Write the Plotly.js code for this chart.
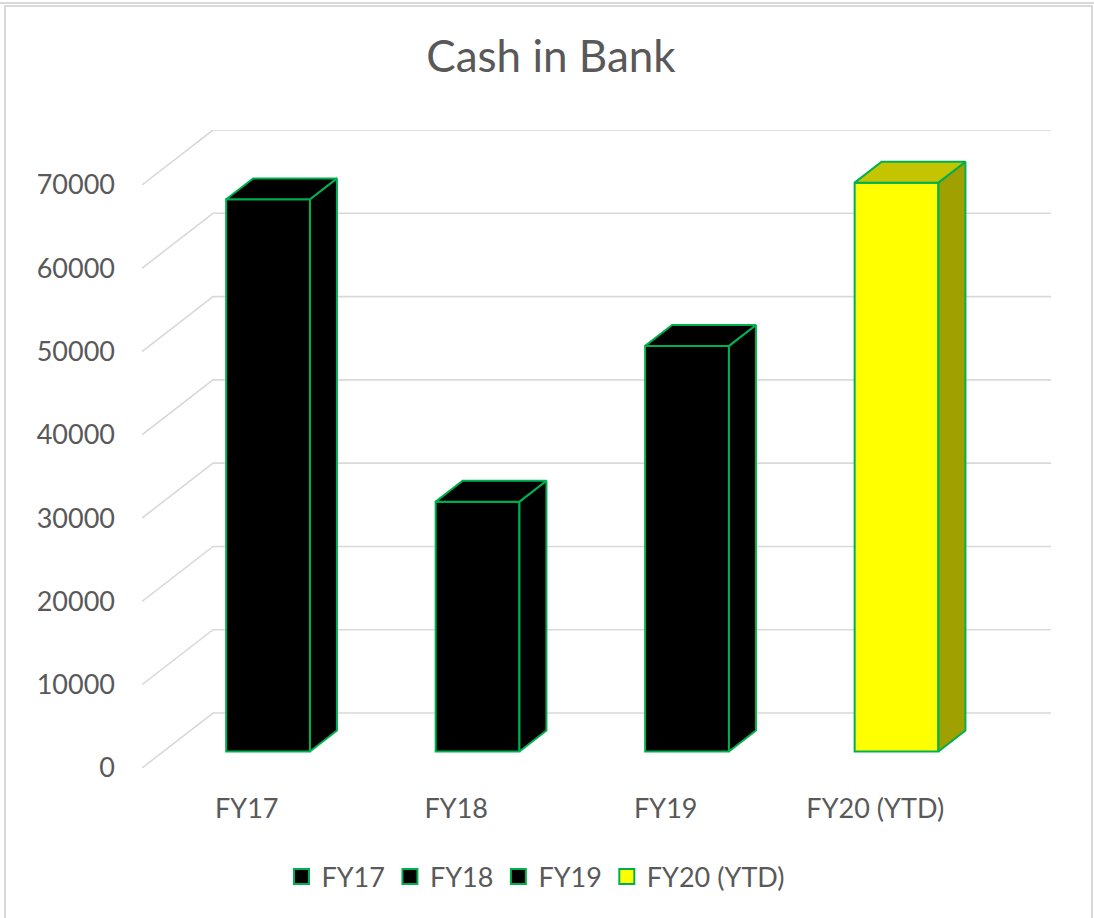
<!DOCTYPE html>
<html>
<head>
<meta charset="utf-8">
<title>Cash in Bank</title>
<script src="https://cdn.plot.ly/plotly-3.0.1.min.js"></script>
<style>
  html, body { margin: 0; padding: 0; background: #fff; }
  #chart { width: 1094px; height: 918px; }
</style>
</head>
<body>
<div id="chart"></div>
<script>
// chart data
const categories = ["FY17", "FY18", "FY19", "FY20 (YTD)"];
const cashValues = [66300, 30000, 48700, 68300];
const yTickValues = [0, 10000, 20000, 30000, 40000, 50000, 60000, 70000];

// look of each column: front / top / side face colours
const frontColors = ["#000000", "#000000", "#000000", "#ffff00"];
const topColors = ["#000000", "#000000", "#000000", "#c4c400"];
const sideColors = ["#000000", "#000000", "#000000", "#a0a000"];

document.addEventListener("DOMContentLoaded", function () {
  const W = 1094,
    H = 918;
  const margin = { l: 142, r: 43, t: 130, b: 150, pad: 0 };
  const plotW = W - margin.l - margin.r;
  const plotH = H - margin.t - margin.b;

  // oblique "3D" depth of the back wall, in axis units
  const DX = 0.339;
  const DY = 6600;
  // where the columns sit inside the depth (fractions of it)
  const frontDepth = 0.3;
  const backDepth = 0.68;
  const halfWidth = 0.2;

  const outline = "#00b050";
  const gridColor = "#d9d9d9";
  const textColor = "#595959";
  const font = "Lato, 'Open Sans', sans-serif";

  const xMin = -0.5;
  const xMax = categories.length - 0.5 + DX;

  // pixel -> paper helpers for the frame decoration
  const px2x = (px) => (px - margin.l) / plotW;
  const py2y = (py) => (H - margin.b - py) / plotH;

  const traces = [];
  const d = backDepth - frontDepth;

  categories.forEach(function (cat, i) {
    const v = cashValues[i];
    const cx = i + frontDepth * DX;
    const base = frontDepth * DY;
    const top = base + v;

    // front face as a real bar
    traces.push({
      type: "bar",
      name: cat,
      x: [cx],
      y: [v],
      base: [base],
      width: [halfWidth * 2],
      marker: {
        color: frontColors[i],
        line: { color: outline, width: 2 },
      },
      showlegend: false,
      hoverinfo: "skip",
    });

    // side face
    traces.push({
      type: "scatter",
      mode: "lines",
      x: [cx + halfWidth, cx + halfWidth + d * DX, cx + halfWidth + d * DX, cx + halfWidth, cx + halfWidth],
      y: [base, base + d * DY, top + d * DY, top, base],
      fill: "toself",
      fillcolor: sideColors[i],
      line: { color: outline, width: 2 },
      showlegend: false,
      hoverinfo: "skip",
    });

    // top face
    traces.push({
      type: "scatter",
      mode: "lines",
      x: [cx - halfWidth, cx - halfWidth + d * DX, cx + halfWidth + d * DX, cx + halfWidth, cx - halfWidth],
      y: [top, top + d * DY, top + d * DY, top, top],
      fill: "toself",
      fillcolor: topColors[i],
      line: { color: outline, width: 2 },
      showlegend: false,
      hoverinfo: "skip",
    });
  });

  // legend entries (bigger squares than the bar legend icon)
  categories.forEach(function (cat, i) {
    traces.push({
      type: "scatter",
      mode: "markers",
      name: cat,
      x: [null],
      y: [null],
      marker: {
        symbol: "square",
        size: 15,
        color: frontColors[i],
        line: { color: outline, width: 2 },
      },
      hoverinfo: "skip",
    });
  });

  // back wall gridlines with their slanted floor edge
  const shapes = yTickValues.map(function (v) {
    return {
      type: "path",
      xref: "x",
      yref: "y",
      path: `M ${xMin},${v} L ${xMin + DX},${v + DY} L ${xMax},${v + DY}`,
      line: { color: gridColor, width: 1.6 },
      layer: "below",
    };
  });

  // chart frame
  shapes.push({
    type: "rect",
    xref: "paper",
    yref: "paper",
    x0: px2x(5),
    x1: px2x(1092),
    y0: py2y(940),
    y1: py2y(6),
    line: { color: gridColor, width: 2 },
    layer: "below",
  });
  shapes.push({
    type: "line",
    xref: "paper",
    yref: "paper",
    x0: px2x(0),
    x1: px2x(W),
    y0: py2y(3),
    y1: py2y(3),
    line: { color: gridColor, width: 2 },
    layer: "below",
  });

  const layout = {
    width: W,
    height: H,
    margin: margin,
    paper_bgcolor: "#ffffff",
    plot_bgcolor: "rgba(0,0,0,0)",
    font: { family: font, color: textColor, size: 27 },
    title: {
      text: "Cash in Bank",
      font: { family: font, size: 44, color: textColor },
      x: 551 / W,
      xanchor: "center",
      y: 1 - 57 / H,
      yanchor: "middle",
    },
    xaxis: {
      range: [xMin, xMax],
      tickvals: categories.map((c, i) => i),
      ticktext: categories,
      showgrid: false,
      zeroline: false,
      showline: false,
      ticks: "",
      ticklabelstandoff: 22,
      tickfont: { family: font, size: 27, color: textColor },
      fixedrange: true,
    },
    yaxis: {
      range: [0, yTickValues[yTickValues.length - 1] + DY],
      tickvals: yTickValues,
      tickformat: "d",
      showgrid: false,
      zeroline: false,
      showline: false,
      ticks: "",
      ticklabelstandoff: 26,
      tickfont: { family: font, size: 27, color: textColor },
      fixedrange: true,
    },
    barmode: "overlay",
    showlegend: true,
    legend: {
      orientation: "h",
      x: px2x(536),
      xanchor: "center",
      y: py2y(877),
      yanchor: "middle",
      font: { family: font, size: 27, color: textColor },
      bgcolor: "rgba(0,0,0,0)",
    },
    hovermode: false,
    shapes: shapes,
  };

  Plotly.newPlot("chart", traces, layout, { displayModeBar: false, staticPlot: true });
});
</script>
</body>
</html>
